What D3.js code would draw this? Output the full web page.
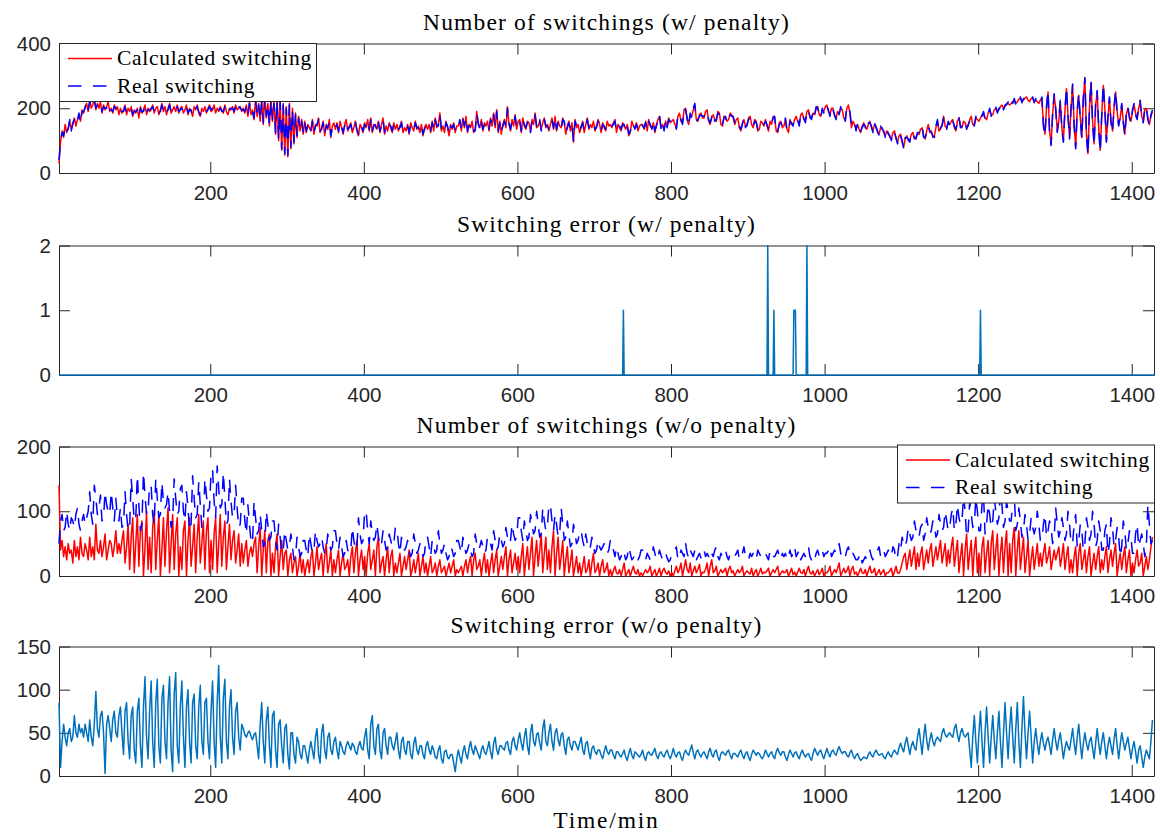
<!DOCTYPE html>
<html><head><meta charset="utf-8">
<script src="https://cdn.jsdelivr.net/npm/d3@7"></script>
<style>body{margin:0;background:#fff}</style>
</head><body>
<svg id="chart" width="1160" height="834"></svg>
<script>
// ---------- data ----------
const startMinute = 3, stepMinutes = 2;   // samples every 2 minutes
const xTicks = [200, 400, 600, 800, 1000, 1200, 1400];
const titles = ["Number of switchings (w/ penalty)", "Switching error (w/ penalty)",
                "Number of switchings (w/o penalty)", "Switching error (w/o penalty)"];
const legendLabels = ["Calculated switching", "Real switching"];
const xLabel = "Time/min";
const p1YTicks = [0, 200, 400];
const p2YTicks = [0, 1, 2];
const p3YTicks = [0, 100, 200];
const p4YTicks = [0, 50, 100, 150];

const p1Calc = [
30,95,130,110,150,125,140,160,135,150,170,145,165,180,160,195,185,205,215,190,
225,200,210,230,195,215,200,220,185,210,195,205,220,190,200,185,210,195,205,180,
200,185,195,210,180,200,190,205,175,195,185,200,170,205,185,195,210,180,200,190,
195,210,185,200,205,180,195,215,190,205,180,200,215,185,195,205,190,210,185,200,
205,185,195,210,180,200,190,175,205,195,210,185,175,200,190,205,185,200,210,190,
195,210,185,200,190,205,195,185,210,190,180,200,195,205,185,210,195,200,205,190,
200,185,210,175,220,180,195,165,230,175,215,160,225,150,235,170,215,145,230,160,
220,120,230,100,225,70,215,55,205,50,215,75,200,90,185,110,175,130,165,120,
160,125,150,140,130,165,120,150,145,170,125,140,160,115,150,135,165,110,145,155,
135,155,125,160,140,120,150,165,130,145,155,125,140,160,130,115,150,140,125,155,
140,165,130,170,125,150,145,135,160,125,150,170,120,145,130,155,140,125,155,135,
150,130,145,160,125,140,130,150,120,155,140,130,160,135,145,125,150,115,140,150,
135,150,125,160,130,170,140,150,185,130,145,125,160,140,115,150,135,155,125,145,
145,160,130,170,140,175,125,150,140,160,125,135,190,150,140,165,130,155,145,160,
130,170,145,185,140,195,125,160,120,150,165,140,205,150,130,165,145,180,135,160,
165,125,170,145,135,160,155,130,165,150,185,140,145,160,135,155,170,140,150,130,
150,170,135,175,130,160,145,140,170,155,120,145,160,130,155,95,165,140,150,125,
140,160,125,150,170,135,150,140,160,130,145,165,150,125,155,140,130,160,145,150,
140,155,165,125,150,140,130,155,145,135,150,115,125,160,145,140,155,130,145,150,
150,135,160,130,165,145,140,155,125,150,165,175,140,150,135,160,145,170,155,160,
165,150,140,175,185,160,155,195,200,165,150,180,175,195,210,165,160,180,185,170,
170,190,195,160,150,175,180,165,160,190,185,150,145,175,170,160,165,185,180,170,
150,165,170,140,130,155,165,145,145,170,175,150,140,165,160,130,135,160,155,145,
165,145,130,160,150,175,170,130,125,155,160,140,145,165,135,125,165,150,150,165,
175,160,150,180,185,165,160,190,195,170,170,185,180,200,205,180,175,195,190,205,
210,190,180,200,200,175,170,190,185,200,195,170,165,200,210,185,140,160,150,135,
150,135,125,145,155,140,135,150,160,140,130,150,145,125,120,140,140,125,115,130,
125,110,105,125,130,105,95,115,120,95,80,105,115,100,100,120,125,105,110,120,
120,135,140,115,105,130,150,125,130,110,115,140,160,130,135,150,175,145,140,155,
150,160,165,140,130,160,170,145,140,160,155,140,145,165,175,150,150,170,165,160,
170,180,185,170,165,185,195,180,180,195,200,190,195,205,210,200,205,215,215,210,
215,220,225,215,220,228,230,222,225,232,235,225,220,230,230,222,225,220,215,225,
230,150,120,200,250,130,90,180,240,200,130,160,220,140,100,190,260,180,110,200,
270,150,80,190,240,170,110,230,290,120,60,200,280,160,90,210,250,140,70,180,
270,200,100,170,230,160,130,200,250,190,150,170,210,160,120,180,200,175,160,190,
210,185,170,200,220,175,160,195,200,170,150,175,190];

const p1Real = [
40,100,125,115,145,130,135,165,130,155,165,150,160,185,155,190,190,200,220,195,
220,205,205,225,200,210,205,215,190,205,200,200,215,195,195,190,205,200,200,185,
195,190,190,205,185,195,195,200,180,190,190,195,175,200,190,190,205,185,195,195,
200,205,190,195,200,185,190,210,195,200,185,195,210,190,190,200,195,205,190,195,
200,190,190,205,185,195,195,180,200,200,205,190,180,195,195,200,190,195,205,195,
200,205,190,195,195,200,190,190,205,195,185,195,200,200,190,205,190,205,200,195,
195,190,205,180,215,185,190,170,225,180,210,165,220,155,230,175,210,150,225,165,
215,125,225,105,220,75,210,60,200,55,210,80,195,95,180,115,170,135,160,125,
155,130,145,145,125,160,125,145,150,165,130,135,155,120,145,140,160,115,140,150,
140,150,130,155,145,125,145,160,135,140,150,130,135,155,135,120,145,145,130,150,
145,160,135,165,130,145,150,130,155,130,145,165,125,140,135,150,145,130,150,140,
145,135,140,155,130,135,135,145,125,150,145,135,155,140,140,130,145,120,135,145,
140,145,130,155,135,165,145,145,180,135,140,130,155,145,120,145,140,150,130,140,
140,165,135,165,145,170,130,145,145,155,130,130,185,155,135,160,135,150,150,155,
135,165,150,180,145,190,130,155,125,145,160,145,200,155,135,160,150,175,140,155,
160,130,165,150,140,155,160,125,160,155,180,145,140,165,130,150,165,145,145,135,
145,165,140,170,135,155,150,135,165,160,125,140,155,135,150,100,160,145,145,130,
145,155,130,145,165,140,145,145,155,135,140,160,155,130,150,145,135,155,150,145,
145,150,160,130,145,145,135,150,150,130,145,120,130,155,150,135,150,135,140,155,
145,140,155,135,160,150,135,160,130,145,160,180,135,155,130,165,140,165,160,155,
160,155,135,180,180,165,150,200,195,170,145,185,170,200,215,160,165,175,180,175,
175,185,190,165,155,170,185,160,165,185,180,155,150,170,175,155,170,180,175,175,
155,160,165,145,135,150,170,140,150,165,170,155,145,160,155,135,140,155,150,150,
160,150,135,155,155,170,175,125,130,150,155,145,140,170,130,130,160,155,145,170,
170,165,145,185,180,170,155,195,190,175,165,190,175,205,200,185,170,200,185,210,
205,195,175,205,195,180,165,195,180,205,190,175,160,205,205,190,145,155,155,130,
155,130,130,140,150,145,130,155,155,145,125,155,140,130,115,145,135,130,110,135,
120,115,100,130,125,110,90,120,115,100,75,110,110,105,95,125,120,110,105,125,
125,130,145,110,110,125,145,130,125,115,110,145,165,125,140,145,170,150,135,160,
145,165,160,145,135,155,175,140,145,155,160,135,150,160,170,155,145,175,160,165,
175,175,190,165,170,180,200,175,185,190,205,185,200,200,215,195,210,210,220,205,
220,215,230,210,225,223,235,217,230,227,230,230,225,225,235,217,230,215,220,220,
235,145,115,205,255,125,85,185,245,195,125,165,225,135,95,195,265,175,105,205,
275,145,75,195,245,165,105,235,295,115,55,205,285,155,85,215,255,135,65,185,
275,195,95,175,235,155,125,205,255,185,145,175,215,155,115,185,205,170,155,195,
215,180,165,205,225,170,155,200,205,165,145,180,195];

const p2SpikeMinutes = [738, 926, 934, 960, 961, 962, 977, 1203];
const p2SpikeValues  = [1, 2, 1, 1, 1, 1, 2, 1];

const p3Calc = [
140,40,55,30,45,25,50,35,40,20,55,30,45,25,60,35,30,50,40,25,
60,30,45,25,80,40,35,55,30,45,65,25,40,55,50,30,45,70,35,50,
35,55,70,20,45,80,10,60,90,5,50,95,15,70,85,0,45,100,10,60,
5,75,100,10,55,95,0,40,90,15,70,105,5,50,95,10,65,90,0,45,
10,70,85,0,55,90,15,45,80,5,60,95,20,50,85,10,70,90,5,55,
10,65,90,5,50,95,15,60,85,10,45,80,25,55,70,20,40,65,15,50,
20,40,55,15,35,45,30,50,60,5,45,75,0,40,70,5,55,65,0,35,
5,45,65,0,30,55,10,35,40,0,25,35,5,20,30,0,15,35,5,25,
0,15,25,5,30,40,0,20,45,10,25,35,0,30,50,5,20,40,0,25,
5,25,40,0,20,35,10,15,25,0,30,45,5,35,55,0,25,40,10,30,
0,35,50,10,25,40,0,45,60,5,20,30,0,25,45,5,30,40,0,20,
5,20,35,0,15,30,10,25,40,0,10,25,5,20,35,0,15,30,5,20,
0,15,30,5,10,20,0,15,25,5,10,15,0,10,20,5,15,25,0,10,
5,10,15,0,15,25,5,20,30,0,25,35,10,15,25,0,20,35,5,25,
0,20,35,5,25,40,0,15,30,10,30,45,0,25,40,5,20,35,10,30,
5,30,50,0,25,45,10,35,60,0,30,55,15,40,65,5,35,60,10,40,
5,45,70,0,35,60,10,30,55,0,25,45,5,20,40,0,15,30,5,20,
0,15,30,5,10,25,0,20,35,5,10,20,0,15,25,5,10,20,0,10,
0,8,15,5,3,10,0,10,20,0,5,10,0,8,15,5,3,10,0,5,
0,5,10,5,8,15,0,5,10,0,5,12,0,8,12,5,3,8,0,5,
0,8,15,5,10,20,0,12,25,10,5,20,0,8,15,5,10,18,0,6,
5,10,20,0,15,25,5,8,15,0,5,10,5,8,12,0,10,15,5,8,
0,5,10,5,8,15,0,5,8,5,3,12,0,6,10,0,5,12,3,6,
5,8,12,0,5,10,5,10,15,0,4,8,5,6,10,0,5,12,2,6,
0,6,12,5,4,10,0,8,15,5,3,8,0,5,10,2,6,12,0,5,
5,8,15,0,5,10,5,12,20,0,6,12,5,8,15,0,10,15,3,6,
0,6,12,5,4,10,0,8,15,5,6,12,0,5,10,2,6,10,0,5,
5,8,12,0,6,15,5,4,10,20,30,35,10,25,40,15,30,45,10,35,
15,35,45,10,25,40,20,40,50,15,30,45,25,40,55,20,35,50,15,40,
20,45,60,15,35,55,5,30,50,0,40,65,10,35,55,0,40,60,5,35,
0,45,60,5,35,55,0,50,70,10,40,65,0,35,60,5,45,70,0,50,
5,55,75,0,40,70,10,35,60,5,30,55,0,25,45,10,30,50,15,35,
15,35,50,20,30,45,10,25,40,25,35,45,15,30,50,10,30,45,5,25,
5,30,45,0,35,50,10,25,40,5,30,45,0,20,35,10,30,45,5,25,
10,30,45,5,25,40,15,35,50,0,20,35,10,30,45,5,25,40,0,20,
5,25,40,15,20,35,0,15,30,10,25,45,60];

const p3Real = [
50,85,95,70,75,100,80,70,90,85,75,95,105,80,70,85,95,80,90,100,
130,95,80,140,120,95,105,125,85,90,130,110,100,95,130,105,85,120,90,85,
105,75,80,130,95,70,75,150,120,85,90,155,110,70,80,160,125,95,100,140,
140,95,80,150,120,90,95,145,115,105,110,130,100,75,85,150,120,95,100,135,
140,100,85,130,105,70,80,155,120,90,95,145,110,75,80,150,125,100,105,160,
165,115,90,170,135,105,110,160,120,80,85,150,115,90,95,140,105,75,80,120,
120,85,65,110,80,55,50,115,90,65,70,95,70,45,50,100,80,55,60,85,
85,55,40,80,60,35,40,70,55,40,45,65,45,25,30,60,45,30,35,55,
55,40,30,65,50,35,40,70,55,45,50,60,45,35,40,65,50,40,45,70,
70,50,40,60,45,30,35,55,40,35,40,75,55,40,45,90,65,50,55,100,
100,70,50,85,65,55,60,80,60,45,50,70,55,40,45,65,55,45,50,75,
75,50,35,60,50,40,45,55,40,30,35,65,50,35,40,50,40,30,35,60,
60,45,30,55,45,35,40,70,50,35,40,50,35,25,30,45,40,30,35,55,
55,45,35,60,45,35,40,50,40,30,35,65,50,40,45,55,45,35,40,60,
60,50,40,70,55,40,45,65,55,45,50,75,60,50,55,80,65,55,60,90,
90,70,55,85,70,55,60,95,80,65,70,100,80,60,65,105,85,70,75,110,
110,85,70,95,80,60,65,105,80,55,60,85,65,45,50,80,65,50,55,70,
70,55,45,65,50,40,45,60,45,35,40,55,45,40,45,50,45,35,40,55,
55,40,30,45,35,25,30,40,35,25,30,45,35,25,28,35,30,25,30,40,
40,30,25,35,30,25,30,45,35,25,28,40,32,25,30,35,28,22,25,35,
35,40,45,25,30,40,35,30,50,35,28,40,35,30,40,25,30,35,28,40,
40,30,35,30,25,35,30,40,45,30,25,35,30,35,40,30,25,35,30,30,
30,35,40,25,30,35,45,30,30,25,35,30,35,30,25,40,35,30,28,35,
35,30,25,40,35,30,30,35,40,30,25,35,30,35,25,30,40,30,35,45,
30,35,40,25,30,35,30,35,45,30,25,30,25,35,40,30,35,40,30,35,
35,40,45,30,35,40,35,40,50,35,30,35,30,40,45,35,30,35,30,25,
25,30,35,20,25,30,25,30,40,30,25,35,35,40,45,30,35,40,30,35,
40,35,30,45,40,25,30,50,40,60,50,45,55,75,65,55,60,85,70,60,
60,75,80,55,65,90,75,65,70,85,80,60,65,95,80,70,75,100,85,70,
75,95,105,70,80,110,90,80,85,125,100,60,70,115,95,75,80,120,100,70,
70,110,125,65,80,110,95,75,85,120,100,80,90,130,110,75,85,115,100,85,
85,115,130,70,80,105,85,60,70,95,80,55,65,90,75,65,75,100,80,55,
55,80,95,60,70,85,75,50,60,105,80,60,70,90,75,55,65,100,80,50,
50,80,95,45,55,80,70,40,50,90,75,55,65,100,80,45,55,85,70,40,
40,70,80,35,50,90,75,45,55,75,60,30,45,85,70,40,50,70,60,35,
35,65,80,45,55,65,50,30,45,110,80,50,55];

const p4Err = [
85,10,40,60,45,35,50,55,40,45,70,50,45,60,50,55,45,60,50,40,
65,45,35,60,98,55,45,70,75,50,3,60,70,55,40,65,75,50,45,70,
80,50,25,75,85,40,20,70,80,30,15,75,90,35,10,80,115,45,20,75,
110,40,10,85,112,35,15,90,105,40,20,85,115,30,5,95,120,35,15,80,
110,45,10,80,100,40,15,85,95,35,20,80,105,40,25,85,90,40,20,75,
110,40,10,85,128,45,15,90,112,40,20,80,100,45,25,75,85,45,30,60,
55,48,45,50,52,46,42,48,50,35,20,60,85,40,15,65,80,35,10,70,
75,30,10,60,65,35,15,55,60,25,8,50,50,25,15,45,40,25,20,35,
35,25,15,30,40,30,20,45,55,25,15,50,60,30,20,45,50,30,25,40,
45,30,20,40,35,28,25,35,40,35,30,38,35,28,25,35,40,32,30,45,
55,30,20,60,70,35,25,55,60,30,20,50,55,35,25,45,45,35,30,40,
50,30,20,40,45,30,25,40,40,25,20,38,45,30,25,35,35,25,20,35,
40,30,25,35,30,22,20,30,35,20,15,28,30,22,20,25,25,15,5,20,
30,22,15,28,35,25,20,32,40,30,25,35,30,25,20,30,35,28,25,32,
40,28,20,38,45,30,25,35,35,32,30,38,40,30,25,40,45,35,30,42,
50,38,30,45,55,35,25,50,60,40,35,48,50,38,30,55,65,40,35,50,
60,40,30,50,55,42,35,48,50,35,25,42,45,35,30,40,40,35,30,38,
45,30,25,38,40,28,20,32,35,28,25,30,30,24,20,28,35,28,25,30,
30,24,20,28,28,24,22,26,30,22,18,26,32,24,20,28,26,24,22,25,
30,22,18,26,28,25,24,28,32,24,20,26,28,24,22,27,30,24,20,25,
32,25,22,27,28,22,18,26,30,26,24,30,36,27,20,28,30,25,22,26,
28,24,20,28,32,25,22,28,30,22,18,26,28,26,24,28,30,24,20,26,
26,24,22,27,30,24,20,26,28,22,18,25,30,27,24,27,26,22,20,24,
30,26,22,26,28,23,20,28,32,27,24,28,28,22,18,25,30,26,22,27,
28,23,20,26,30,25,22,25,26,21,18,26,32,28,24,28,30,24,20,26,
32,26,22,28,30,26,24,30,34,29,26,28,28,24,22,27,30,24,20,24,
26,21,18,20,22,21,20,25,28,24,22,27,30,26,24,25,26,22,20,25,
28,24,22,27,30,27,25,33,38,32,28,38,45,35,25,35,40,33,30,45,
55,40,25,45,60,42,30,42,50,40,35,42,45,42,40,50,55,48,45,48,
50,47,45,55,60,48,40,50,55,48,45,48,50,30,10,45,70,40,15,50,
75,40,10,50,80,45,15,45,70,42,20,50,75,40,10,50,85,50,20,55,
80,45,15,55,85,40,10,55,92,50,20,50,75,45,15,40,55,38,25,40,
50,38,30,40,45,35,25,42,55,40,30,42,50,35,20,32,40,34,30,42,
55,38,25,45,60,38,20,38,50,38,30,40,45,32,20,38,55,38,25,40,
50,35,20,35,45,35,25,42,55,35,20,36,50,40,30,38,45,32,20,32,
40,28,15,30,35,22,10,22,30,25,20,40,65];

// ---------- drawing ----------
const colors = {calc: "#ff0000", real: "#0000ff", err: "#0072bd", axis: "#262626"};
const sansFont = "'Liberation Sans', Arial, Helvetica, sans-serif";
const serifFont = "'Liberation Serif', 'Times New Roman', serif";

const toPoints = arr => arr.map((v, i) => [startMinute + i * stepMinutes, v]);
const spikeMap = new Map(p2SpikeMinutes.map((m, i) => [m, p2SpikeValues[i]]));
const p2Points = d3.range(3, 1430).map(m => [m, spikeMap.get(m) || 0]);

const svg = d3.select("#chart");
const left = 59, right = 1154, panelH = 129.5;
const x = d3.scaleLinear().domain([3, 1429]).range([left, right]);

const panels = [
  {top: 43.5, yMax: 400, yTicks: p1YTicks, title: titles[0],
   lines: [{pts: toPoints(p1Calc), color: colors.calc}, {pts: toPoints(p1Real), color: colors.real, dash: true}],
   legend: {x: 59, y: 43.5}},
  {top: 245.5, yMax: 2, yTicks: p2YTicks, title: titles[1],
   lines: [{pts: p2Points, color: colors.err}]},
  {top: 446.5, yMax: 200, yTicks: p3YTicks, title: titles[2],
   lines: [{pts: toPoints(p3Calc), color: colors.calc}, {pts: toPoints(p3Real), color: colors.real, dash: true}],
   legend: {x: 897, y: 445}},
  {top: 646.5, yMax: 150, yTicks: p4YTicks, title: titles[3],
   lines: [{pts: toPoints(p4Err), color: colors.err}]}
];

panels.forEach((p, k) => {
  const bottom = p.top + panelH;
  const y = d3.scaleLinear().domain([0, p.yMax]).range([bottom, p.top]);
  const g = svg.append("g");

  function styleAxis(ax) {
    ax.attr("color", colors.axis);
    ax.select(".domain").attr("stroke-width", 1);
    ax.selectAll(".tick line").attr("stroke-width", 1);
    ax.selectAll("text").attr("font-family", sansFont).attr("font-size", "20.5px").attr("fill", colors.axis);
  }
  styleAxis(g.append("g").attr("transform", `translate(0,${bottom})`)
    .call(d3.axisBottom(x).tickValues(xTicks).tickSizeInner(-11).tickSizeOuter(0).tickPadding(12).tickFormat(d3.format("d"))));
  styleAxis(g.append("g").attr("transform", `translate(0,${p.top})`)
    .call(d3.axisTop(x).tickValues(xTicks).tickSizeInner(-11).tickSizeOuter(0).tickFormat("")));
  styleAxis(g.append("g").attr("transform", `translate(${left},0)`)
    .call(d3.axisLeft(y).tickValues(p.yTicks).tickSizeInner(-11).tickSizeOuter(0).tickPadding(8).tickFormat(d3.format("d"))));
  styleAxis(g.append("g").attr("transform", `translate(${right},0)`)
    .call(d3.axisRight(y).tickValues(p.yTicks).tickSizeInner(-11).tickSizeOuter(0).tickFormat("")));

  const clipId = "clip" + k;
  svg.append("clipPath").attr("id", clipId).append("rect")
    .attr("x", left - 1).attr("y", p.top - 1).attr("width", right - left + 2).attr("height", panelH + 2);

  const line = d3.line().x(d => x(d[0])).y(d => y(d[1]));
  const dg = g.append("g").attr("clip-path", `url(#${clipId})`);
  p.lines.forEach(s => {
    dg.append("path").attr("d", line(s.pts)).attr("fill", "none")
      .attr("stroke", s.color).attr("stroke-width", 1.5).attr("stroke-linejoin", "round")
      .attr("stroke-dasharray", s.dash ? "13,10" : null);
  });

  g.append("text").attr("x", (left + right) / 2).attr("y", p.top - 14)
    .attr("text-anchor", "middle").attr("font-family", serifFont).attr("font-size", "23.5px")
    .attr("letter-spacing", "1.15px").attr("fill", "#000").text(p.title);

  if (p.legend) {
    const lg = g.append("g").attr("transform", `translate(${p.legend.x},${p.legend.y})`);
    lg.append("rect").attr("x", 0.5).attr("y", 0).attr("width", 257).attr("height", 58)
      .attr("fill", "#fff").attr("stroke", colors.axis).attr("stroke-width", 1);
    [[colors.calc, false], [colors.real, true]].forEach((c, i) => {
      const yy = 15 + i * 27.5;
      lg.append("line").attr("x1", 9).attr("x2", 53).attr("y1", yy).attr("y2", yy)
        .attr("stroke", c[0]).attr("stroke-width", 1.5).attr("stroke-dasharray", c[1] ? "13.5,11.5" : null);
      lg.append("text").attr("x", 58).attr("y", yy + 6.5).attr("font-family", serifFont)
        .attr("font-size", "21.5px").attr("letter-spacing", "0.7px").attr("fill", "#000").text(legendLabels[i]);
    });
  }
});

svg.append("text").attr("x", (left + right) / 2).attr("y", 828).attr("text-anchor", "middle")
  .attr("font-family", serifFont).attr("font-size", "23.5px").attr("letter-spacing", "1.8px")
  .attr("fill", "#000").text(xLabel);
</script>
</body></html>
